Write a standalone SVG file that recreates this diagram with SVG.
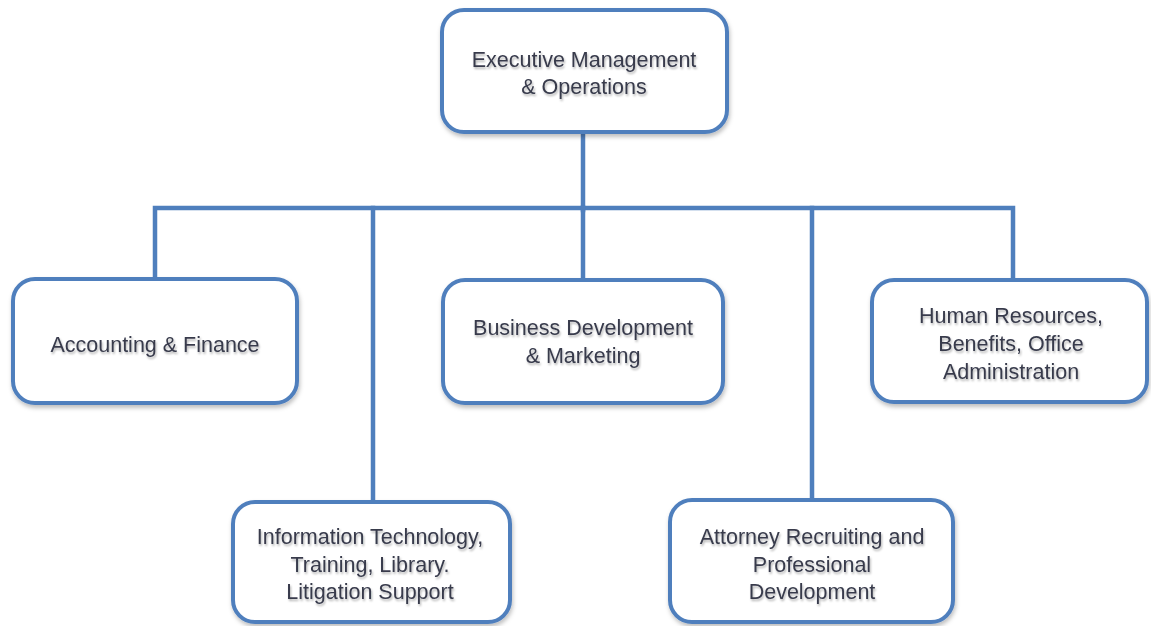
<svg xmlns="http://www.w3.org/2000/svg" width="1151" height="626" viewBox="0 0 1151 626">
<defs>
<filter id="sh" x="-10%" y="-10%" width="120%" height="130%">
<feDropShadow dx="1" dy="3" stdDeviation="2" flood-color="#000" flood-opacity="0.25"/>
</filter>
<filter id="tsh" x="-5%" y="-20%" width="110%" height="150%">
<feDropShadow dx="1" dy="2" stdDeviation="1.2" flood-color="#000" flood-opacity="0.3"/>
</filter>
</defs>
<style>
.box{fill:#ffffff;stroke:#4f7fbd;stroke-width:4;filter:url(#sh)}
.lbl{font-family:"Liberation Sans",Arial,sans-serif;font-size:21.5px;fill:#383b4c;text-anchor:middle;filter:url(#tsh)}
.conn{stroke:#4f7fbd;stroke-width:4.5;fill:none;stroke-linecap:square}
</style>
<rect width="1151" height="626" fill="#ffffff"/>
<g id="connectors">
<path class="conn" d="M583 132 V210"/>
<path class="conn" d="M155 278 V208 H583"/>
<path class="conn" d="M583 208 H1013 V280"/>
<path class="conn" d="M373 208 V502"/>
<path class="conn" d="M583 208 V280"/>
<path class="conn" d="M812 208 V500"/>
</g>
<g id="exec">
<rect class="box" x="442" y="10" width="285" height="122" rx="22"/>
<text class="lbl" x="584" y="67">Executive Management</text>
<text class="lbl" x="584" y="94">&amp; Operations</text>
</g>
<g id="accounting">
<rect class="box" x="13" y="279" width="284" height="124" rx="22"/>
<text class="lbl" x="155" y="352">Accounting &amp; Finance</text>
</g>
<g id="bizdev">
<rect class="box" x="443" y="280" width="280" height="123" rx="22"/>
<text class="lbl" x="583" y="335">Business Development</text>
<text class="lbl" x="583" y="363">&amp; Marketing</text>
</g>
<g id="hr">
<rect class="box" x="872" y="280" width="275" height="122" rx="22"/>
<text class="lbl" x="1011" y="323">Human Resources,</text>
<text class="lbl" x="1011" y="351">Benefits, Office</text>
<text class="lbl" x="1011" y="379">Administration</text>
</g>
<g id="it">
<rect class="box" x="233" y="502" width="277" height="120" rx="22"/>
<text class="lbl" x="370" y="544">Information Technology,</text>
<text class="lbl" x="370" y="572">Training, Library.</text>
<text class="lbl" x="370" y="599">Litigation Support</text>
</g>
<g id="attorney">
<rect class="box" x="670" y="500" width="283" height="122" rx="22"/>
<text class="lbl" x="812" y="544">Attorney Recruiting and</text>
<text class="lbl" x="812" y="572">Professional</text>
<text class="lbl" x="812" y="599">Development</text>
</g>
</svg>
